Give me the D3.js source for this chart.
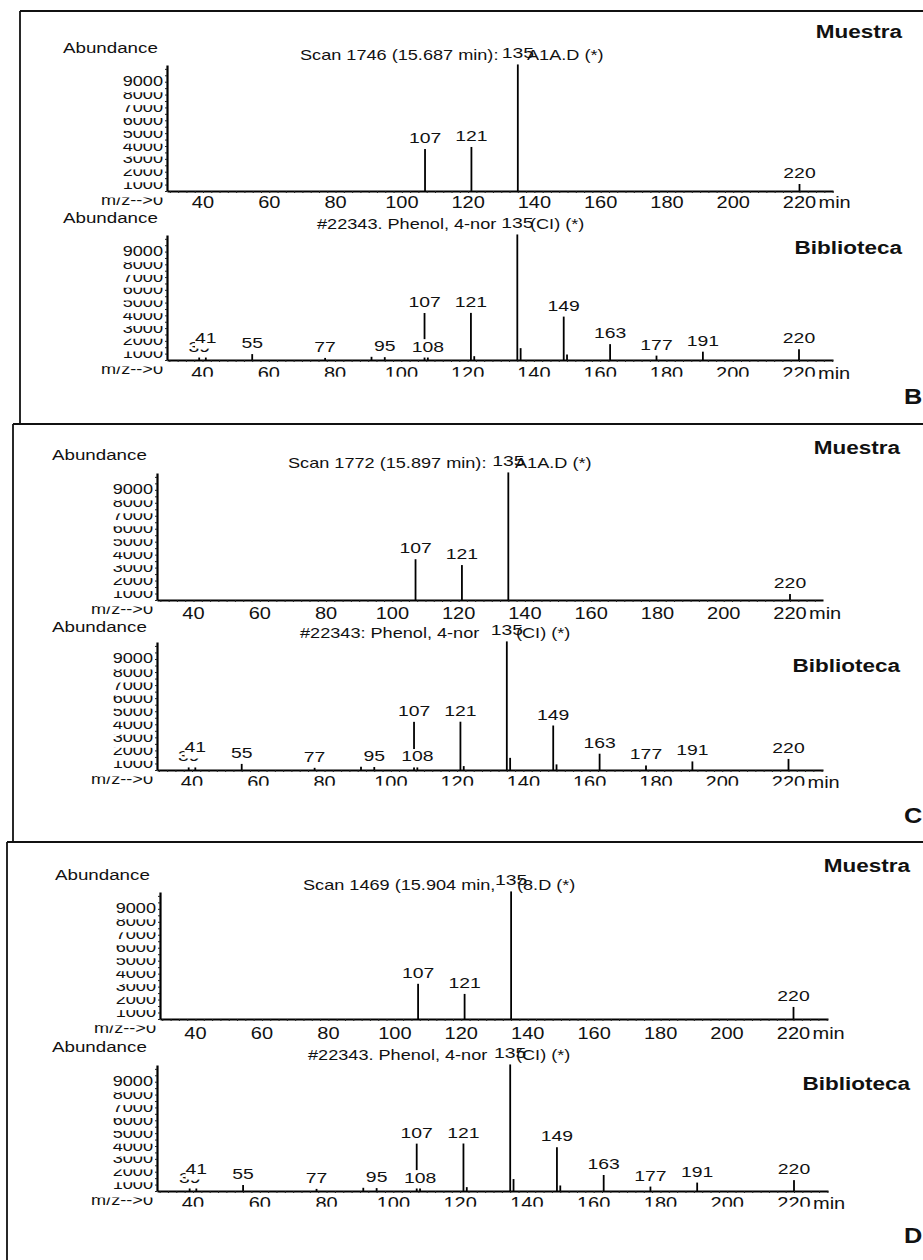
<!DOCTYPE html>
<html>
<head>
<meta charset="utf-8">
<script src="https://cdn.jsdelivr.net/npm/d3@7"></script>
<style>
  html, body { margin: 0; padding: 0; background: #fff; }
  svg { display: block; }
  text { font-family: "Liberation Sans", Arial, sans-serif; fill: #111; }
</style>
</head>
<body>
<script>
'use strict';

// ---- data ----
const mzTicks = [40, 60, 80, 100, 120, 140, 160, 180, 200, 220];
const abundanceTicks = [1000, 2000, 3000, 4000, 5000, 6000, 7000, 8000, 9000];

// sample (Muestra) spectra, one per panel
const sampleMz = [107, 121, 135, 220];
const sampleB = [3420, 3580, 9999, 700];
const sampleC = [3300, 2850, 9999, 615];
const sampleD = [2870, 2090, 9999, 1085];
const sampleLabels = [107, 121, 135, 220];

// library (Biblioteca) spectrum #22343, same in every panel
const libraryMz = [39, 41, 55, 77, 91, 95, 107, 108, 121, 122, 135, 136, 149, 150, 163, 177, 191, 220];
const libraryAbund = [350, 500, 620, 320, 250, 380, 3840, 350, 3850, 300, 9999, 930, 3560, 430, 1400, 500, 810, 1000];
const libraryLabels = [39, 41, 55, 77, 95, 107, 108, 121, 135, 149, 163, 177, 191, 220];

// titles are split where the 135 peak label is printed over them
const sampleTitles = [
  ["Scan 1746 (15.687 min): ", "A1A.D (*)"],
  ["Scan 1772 (15.897 min): ", "A1A.D (*)"],
  ["Scan 1469 (15.904 min,", "(8.D (*)"]
];
const libraryTitles = [
  ["#22343. Phenol, 4-nor", "(CI) (*)"],
  ["#22343: Phenol, 4-nor", "(CI) (*)"],
  ["#22343. Phenol, 4-nor", "(CI) (*)"]
];
const panelLetters = ["B", "C", "D"];

// ---- layout (pixel positions of each pasted scan) ----
const layout = [
  { top: 11, left: 20, bottom: 424, letterY: 396, tagX: 902,
    sample: { left: 167, right: 833, top: 65, base: 191, x40: 203, x220: 799.5, tickY: 202,
              abundX: 63, abundY: 48, titleX: 300, titleY: 55, titleRX: 527, tagY: 31 },
    lib:    { left: 167, right: 833, top: 235, base: 360, x40: 202.5, x220: 799, tickY: 373,
              abundX: 63, abundY: 218, titleX: 317, titleY: 224, titleRX: 530, tagY: 247 } },
  { top: 424, left: 13, bottom: 842, letterY: 815, tagX: 900,
    sample: { left: 157, right: 823, top: 473, base: 600, x40: 193.5, x220: 790, tickY: 613,
              abundX: 52, abundY: 455, titleX: 288, titleY: 463, titleRX: 515, tagY: 447 },
    lib:    { left: 157, right: 823, top: 642, base: 770, x40: 192, x220: 788.5, tickY: 782,
              abundX: 52, abundY: 627, titleX: 300, titleY: 633, titleRX: 516, tagY: 665 } },
  { top: 842, left: 7, bottom: 1260, letterY: 1235, tagX: 910,
    sample: { left: 160, right: 828, top: 892, base: 1019, x40: 195.5, x220: 793.5, tickY: 1033,
              abundX: 55, abundY: 875, titleX: 303, titleY: 885, titleRX: 517, tagY: 865 },
    lib:    { left: 157, right: 828, top: 1065, base: 1191, x40: 193, x220: 794, tickY: 1203,
              abundX: 52, abundY: 1047, titleX: 308, titleY: 1055, titleRX: 516, tagY: 1083 } }
];

const labelLift = { 41: 7 };   // the 41 label is pushed up above the 39 label
const SX = 1.25;               // the scanned font is stretched sideways
const FS = 14.5;               // abundance scale labels and titles
const FP = 15.5;               // peak labels
const FN = 16;                 // m/z labels

const svg = d3.select('body').append('svg')
  .attr('width', 923)
  .attr('height', 1260);

// stretched text, optionally on a white box that hides what is under it
function label(g, x, y, str, o) {
  o = o || {};
  const size = o.size || FS;
  const t = g.append('g')
    .attr('transform', `translate(${x},${y}) scale(${o.sx || SX},1)`);
  const txt = t.append('text')
    .attr('text-anchor', o.anchor || 'start')
    .style('font-size', size + 'px')
    .style('font-weight', o.bold ? 'bold' : null)
    .text(str);
  if (o.bg) {
    const bb = txt.node().getBBox();
    t.insert('rect', 'text')
      .attr('x', bb.x)
      .attr('y', -size * 0.8)
      .attr('width', bb.width)
      .attr('height', size * 0.8 + 6)
      .attr('fill', '#fff');
  }
  return txt;
}

function spectrum(L, mz, ab, labels, title, cutBottom) {
  const g = svg.append('g');

  const x0 = d3.scaleLinear().domain([40, 220]).range([L.x40, L.x220]);
  const x = x0.copy().domain([x0.invert(L.left), x0.invert(L.right)]).range([L.left, L.right]);
  const y = d3.scaleLinear().domain([0, 9800]).range([L.base, L.top]);

  // axes, small ticks only, labels drawn by hand below
  const xAxis = g.append('g')
    .attr('transform', `translate(0,${L.base})`)
    .call(d3.axisBottom(x)
      .tickValues(d3.range(30, 231, 2.5).filter(v => v <= x.domain()[1]))
      .tickSize(2).tickSizeOuter(0).tickFormat(''));
  const yAxis = g.append('g')
    .attr('transform', `translate(${L.left},0)`)
    .call(d3.axisLeft(y)
      .tickValues(d3.range(0, 9801, 500))
      .tickSize(2).tickSizeOuter(0).tickFormat(''));
  [xAxis, yAxis].forEach(a => {
    a.select('.domain').attr('stroke', '#000').attr('stroke-width', 2.2);
    a.selectAll('.tick line').attr('stroke', '#222');
  });

  // peaks
  g.selectAll('line.peak')
    .data(d3.zip(mz, ab))
    .join('line')
    .attr('class', 'peak')
    .attr('x1', d => x(d[0]))
    .attr('x2', d => x(d[0]))
    .attr('y1', y(0))
    .attr('y2', d => y(d[1]))
    .attr('stroke', '#000')
    .attr('stroke-width', 1.8);

  label(g, L.abundX, L.abundY + 5, 'Abundance', { size: 15 });

  // peak labels, lowest first so upper ones cover lower ones
  const pk = labels.map(m => {
    const v = ab[mz.indexOf(m)];
    return { m: m, yb: y(v) - 4 - (labelLift[m] || 0) };
  }).sort((a, b) => b.yb - a.yb);
  pk.forEach(p => label(g, x(p.m), p.yb, String(p.m), { anchor: 'middle', bg: true, size: FP }));

  // title printed round the 135 label
  label(g, L.titleX, L.titleY + 5, title[0]);
  label(g, L.titleRX, L.titleY + 5, title[1]);

  // abundance labels; each one hides the top of the one below
  abundanceTicks.forEach(v => {
    label(g, L.left - 4, y(v) + 11, String(v), { anchor: 'end', bg: true });
  });
  label(g, L.left - 4, L.base + 14, 'm/z-->0', { anchor: 'end' });
  g.append('rect')
    .attr('x', L.left - 60).attr('y', L.base + 1.5)
    .attr('width', 57).attr('height', 5)
    .attr('fill', '#fff');

  // m/z labels
  mzTicks.forEach(v => {
    label(g, x(v), L.tickY + 5.5, String(v), { anchor: 'middle', size: FN });
  });
  if (cutBottom) {
    g.append('rect')
      .attr('x', L.left).attr('y', L.tickY + 3.7)
      .attr('width', x(220) + 17 - L.left).attr('height', 5)
      .attr('fill', '#fff');
  }
  label(g, x(220) + 19, L.tickY + 5.5, 'min', { size: FN });
}

const samples = [sampleB, sampleC, sampleD];

layout.forEach((P, i) => {
  // frame of the pasted scan
  svg.append('line')
    .attr('x1', P.left).attr('x2', 923)
    .attr('y1', P.top).attr('y2', P.top)
    .attr('stroke', '#111').attr('stroke-width', 1.8);
  svg.append('line')
    .attr('x1', P.left).attr('x2', P.left)
    .attr('y1', P.top).attr('y2', P.bottom)
    .attr('stroke', '#111').attr('stroke-width', 1.8);

  spectrum(P.sample, sampleMz, samples[i], sampleLabels, sampleTitles[i], false);
  spectrum(P.lib, libraryMz, libraryAbund, libraryLabels, libraryTitles[i], true);

  label(svg, P.tagX, P.sample.tagY + 6.5, 'Muestra', { anchor: 'end', bold: true, size: 18 });
  label(svg, P.tagX, P.lib.tagY + 6.5, 'Biblioteca', { anchor: 'end', bold: true, size: 18 });
  label(svg, 904, P.letterY + 8, panelLetters[i], { bold: true, size: 22, sx: 1.15 });
});
</script>
</body>
</html>
